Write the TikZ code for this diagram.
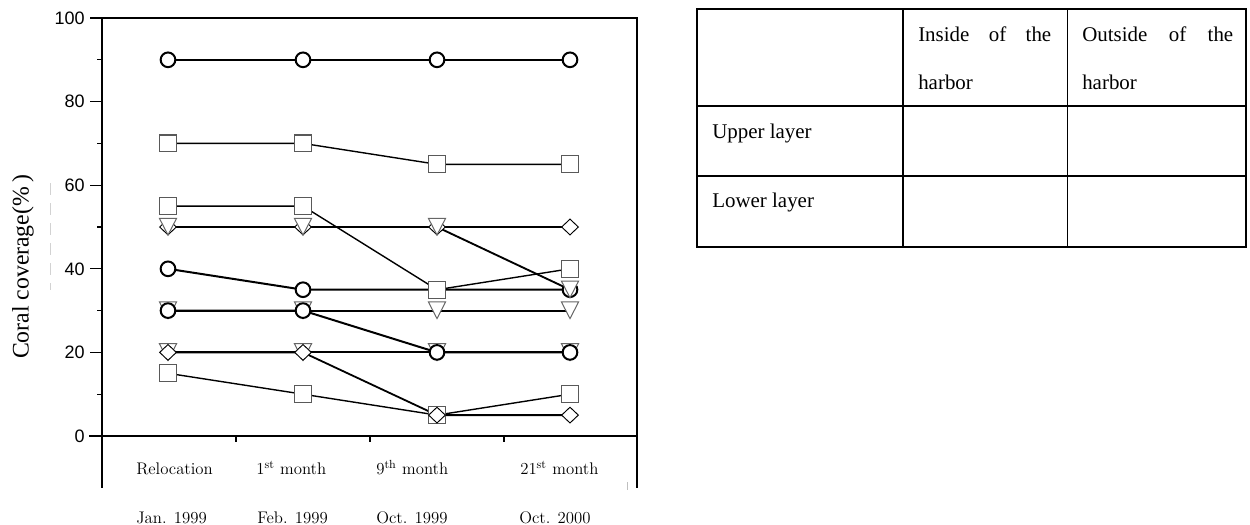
\documentclass[tikz,border=0pt]{standalone}
\usepackage{fontspec}
\newfontfamily\tnr{Liberation Serif}
\newfontfamily\arl{Liberation Sans}
\usetikzlibrary{shapes.geometric}
\pgfdeclarelayer{fg}
\pgfsetlayers{main,fg}
\newcommand{\trimark}{\tikz[x=0.75pt,y=-0.75pt]{\useasboundingbox (-9,-9) rectangle (9,9);
  \draw[black!60,fill=white,line width=0.75pt,line join=miter] (-8.6,-8.7)--(8.6,-8.7)--(0,8.0)--cycle;}}
\newcommand{\mkseries}[7]{%
  \node[#2] (#1-1) at (168,{436-4.18*(#4)}) {#3};
  \node[#2] (#1-2) at (303,{436-4.18*(#5)}) {#3};
  \node[#2] (#1-3) at (437,{436-4.18*(#6)}) {#3};
  \node[#2] (#1-4) at (570,{436-4.18*(#7)}) {#3};}
\newcommand{\mkline}[2]{\draw[#2] (#1-1.center) -- (#1-2.center) -- (#1-3.center) -- (#1-4.center);}
\tikzset{
  circmark/.style={circle, draw=black, fill=white, line width=1.5pt, minimum size=11pt, inner sep=0pt},
  sqmark/.style={rectangle, draw=black!65, fill=white, line width=0.85pt, minimum size=12.65pt, inner sep=0pt},
  dmmark/.style={diamond, draw=black, fill=white, line width=0.7pt, minimum width=12.8pt, minimum height=12.1pt, inner sep=0pt},
  trmark/.style={inner sep=0pt, outer sep=0pt},
  cline/.style={line width=1.5pt, line join=round},
  sline/.style={line width=1.05pt, line join=round},
  tline/.style={line width=1.4pt, line join=round},
  dline/.style={line width=1.35pt, line join=round},
  frame/.style={line width=1.35pt, line cap=rect},
  thinframe/.style={line width=0.9pt},
  tick/.style={line width=0.8pt},
  ticklab/.style={anchor=east, inner sep=0pt, font=\arl\fontsize{13.5pt}{15pt}\selectfont},
  xlab/.style={anchor=base west, inner sep=0pt, font=\rmfamily\fontsize{12.6pt}{14pt}\selectfont\addfontfeatures{FakeBold=0.6}},
  tbl/.style={line width=1.1pt},
  tbltext/.style={anchor=base west, inner sep=0pt, font=\tnr\fontsize{15.7pt}{18pt}\selectfont},
}
\begin{document}
\begin{tikzpicture}[x=0.75pt,y=-0.75pt]
\useasboundingbox (0,0) rectangle (1250,525);

% faint scan marks
\draw[gray!35, line width=0.6pt, dash pattern=on 9pt off 6pt] (50,183) -- (50,290);
\draw[gray!50, line width=0.6pt] (627,482) -- (627,490);

% y label
\node[rotate=90, font=\tnr\fontsize{17.8pt}{20pt}\selectfont] (ylab) at (23,267) {Coral coverage(\%\thinspace)};

% frame
\draw[frame] (102,18) -- (637,18);
\draw[frame] (102,18) -- (102,436);
\draw[frame] (90,436) -- (637,436);
\draw[line width=1.1pt] (637,18) -- (637,436);
\draw[thinframe] (102,436) -- (102,488);
\draw[thinframe] (637,436) -- (637,488);
\foreach \x in {236,370,504} \draw[tick] (\x,436) -- (\x,442);

% y ticks
\foreach \v in {20,40,60,80,100} \draw[tick] (90,{436-4.18*\v}) -- (102,{436-4.18*\v});
\foreach \v in {10,30,50,70,90} \draw[tick] (97,{436-4.18*\v}) -- (102,{436-4.18*\v});
\foreach \v in {0,20,40,60,80,100} \node[ticklab] (yl\v) at (85,{436-4.18*\v}) {\v};

% x labels
\node[xlab] (xa1) at (136,474) {Relocation};
\node[xlab] (xb1) at (256,474) {1\textsuperscript{st} month};
\node[xlab] (xc1) at (376,474) {9\textsuperscript{th} month};
\node[xlab] (xd1) at (520,474) {21\textsuperscript{st} month};
\node[xlab] (xa2) at (136,523) {Jan. 1999};
\node[xlab] (xb2) at (257,523) {Feb. 1999};
\node[xlab] (xc2) at (376,523) {Oct. 1999};
\node[xlab] (xd2) at (519,523) {Oct. 2000};

% markers
\begin{pgfonlayer}{fg}
\mkseries{T2}{trmark}{\trimark}{30}{30}{30}{30}
\mkseries{T3}{trmark}{\trimark}{20}{20}{20}{20}
\mkseries{C1}{circmark}{}{90}{90}{90}{90}
\mkseries{C2}{circmark}{}{40}{35}{35}{35}
\mkseries{C3}{circmark}{}{30}{30}{20}{20}
\mkseries{S1}{sqmark}{}{70}{70}{65}{65}
\mkseries{S2}{sqmark}{}{55}{55}{35}{40}
\mkseries{S3}{sqmark}{}{15}{10}{5}{10}
\mkseries{D1}{dmmark}{}{50}{50}{50}{50}
\mkseries{D2}{dmmark}{}{20}{20}{5}{5}
\mkseries{T1}{trmark}{\trimark}{50}{50}{50}{35}
\end{pgfonlayer}

% connectors
\mkline{C1}{cline}
\mkline{C2}{cline}
\mkline{C3}{cline}
\mkline{S1}{sline}
\mkline{S2}{sline}
\mkline{S3}{sline}
\mkline{D1}{dline}
\mkline{D2}{dline}
\mkline{T1}{tline}
\mkline{T2}{tline}
\mkline{T3}{tline}

% table
\draw[tbl] (697,9) rectangle (1246,247);
\draw[tbl] (903,9) -- (903,247);
\draw[tbl] (1067.5,9) -- (1067.5,247);
\draw[tbl] (697,106) -- (1246,106);
\draw[tbl] (697,176) -- (1246,176);
\node[tbltext] (h1a) at (918,41) {\makebox[99.75pt][s]{Inside of the}};
\node[tbltext] (h1b) at (918,89) {harbor};
\node[tbltext] (h2a) at (1082,41) {\makebox[113.25pt][s]{Outside of the}};
\node[tbltext] (h2b) at (1082,89) {harbor};
\node[tbltext] (r1) at (712,138) {Upper layer};
\node[tbltext] (r2) at (712,207) {Lower layer};
\end{tikzpicture}
\end{document}
